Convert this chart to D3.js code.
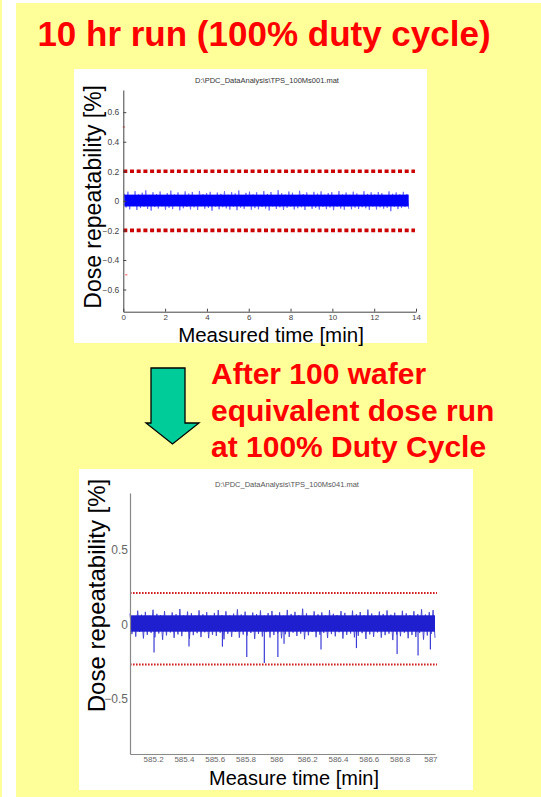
<!DOCTYPE html>
<html>
<head>
<meta charset="utf-8">
<script src="https://cdn.jsdelivr.net/npm/d3@7"></script>
<style>
body { margin: 0; background: #fff; }
svg { display: block; }
text { font-family: "Liberation Sans", Arial, sans-serif; }
</style>
</head>
<body>
<div id="chart"></div>
<script>
// ---- top run (TPS_100Ms001) ----
const topTitle = "D:\\PDC_DataAnalysis\\TPS_100Ms001.mat";
const topXTicks = [0, 2, 4, 6, 8, 10, 12, 14];
const topYTicks = [0.6, 0.4, 0.2, 0, -0.2, -0.4, -0.6];
const topSpan = [0.05, 13.65];          // measured time covered by the trace [min]
const topCore = [-0.038, 0.042];        // dense part of the band [%]
const topLimits = [0.2, -0.2];
const topMarks = [[0.0, 0.5], [0.12, -0.5]];
const topHi = [0.048,0.062,0.039,0.066,0.044,0.055,0.071,0.041,0.058,0.046,
  0.063,0.037,0.052,0.069,0.043,0.057,0.040,0.064,0.049,0.060,
  0.036,0.067,0.045,0.053,0.061,0.038,0.056,0.047,0.065,0.042,
  0.059,0.050,0.070,0.039,0.054,0.062,0.044,0.058,0.041,0.066,
  0.047,0.060,0.038,0.072,0.051,0.043,0.063,0.055,0.040,0.068,
  0.046,0.057,0.037,0.061,0.049,0.064,0.042,0.053,0.059,0.039,
  0.066,0.045,0.056,0.041,0.062,0.050,0.038,0.065,0.047,0.058,
  0.043,0.060,0.052,0.040,0.064,0.048,0.057,0.044,0.061,0.046];
const topLo = [-0.045,-0.058,-0.036,-0.062,-0.049,-0.040,-0.055,-0.066,-0.042,-0.052,
  -0.038,-0.060,-0.047,-0.056,-0.035,-0.064,-0.050,-0.041,-0.058,-0.044,
  -0.061,-0.037,-0.053,-0.048,-0.067,-0.039,-0.057,-0.043,-0.051,-0.059,
  -0.040,-0.063,-0.046,-0.054,-0.036,-0.060,-0.049,-0.057,-0.042,-0.052,
  -0.065,-0.038,-0.055,-0.044,-0.061,-0.047,-0.039,-0.058,-0.050,-0.043,
  -0.062,-0.037,-0.054,-0.048,-0.059,-0.041,-0.056,-0.045,-0.063,-0.040,
  -0.052,-0.060,-0.038,-0.057,-0.046,-0.055,-0.043,-0.050,-0.061,-0.039,
  -0.058,-0.044,-0.053,-0.047,-0.070,-0.041,-0.056,-0.049,-0.042,-0.054];

// ---- bottom run (TPS_100Ms041) ----
const botTitle = "D:\\PDC_DataAnalysis\\TPS_100Ms041.mat";
const botXTicks = [585.2, 585.4, 585.6, 585.8, 586, 586.2, 586.4, 586.6, 586.8, 587];
const botYTicks = [0.5, 0, -0.5];
const botSpan = [585.05, 587.03];
const botCore = [-0.05, 0.06];
const botLimits = [0.21, -0.27];
const botHi = [0.072,0.055,0.091,0.064,0.083,0.058,0.097,0.070,0.061,0.088,
  0.053,0.079,0.067,0.102,0.060,0.085,0.074,0.057,0.093,0.066,
  0.081,0.056,0.076,0.095,0.062,0.087,0.059,0.071,0.099,0.065,
  0.084,0.054,0.078,0.068,0.092,0.058,0.075,0.089,0.063,0.080,
  0.057,0.096,0.069,0.083,0.061,0.104,0.073,0.056,0.086,0.066,
  0.079,0.059,0.094,0.070,0.062,0.088,0.076,0.055,0.091,0.067,
  0.082,0.060,0.098,0.072,0.058,0.085,0.069,0.093,0.064,0.077,
  0.056,0.090,0.073,0.061,0.087,0.068,0.100,0.065,0.081,0.095];
const botLo = [-0.066,-0.083,-0.052,-0.095,-0.071,-0.058,-0.088,-0.062,-0.104,-0.075,
  -0.055,-0.091,-0.068,-0.080,-0.049,-0.097,-0.073,-0.060,-0.086,-0.054,
  -0.093,-0.070,-0.078,-0.057,-0.101,-0.064,-0.084,-0.051,-0.090,-0.069,
  -0.076,-0.059,-0.098,-0.065,-0.082,-0.053,-0.089,-0.072,-0.061,-0.094,
  -0.067,-0.085,-0.056,-0.079,-0.063,-0.100,-0.074,-0.052,-0.087,-0.070,
  -0.058,-0.092,-0.066,-0.081,-0.054,-0.096,-0.071,-0.062,-0.088,-0.077,
  -0.060,-0.099,-0.068,-0.084,-0.055,-0.090,-0.073,-0.063,-0.106,-0.069,
  -0.080,-0.057,-0.094,-0.072,-0.086,-0.059,-0.103,-0.075,-0.065,-0.091];
const botSpikeT = [585.206, 585.433, 585.65, 585.808, 585.922, 586.01, 586.05, 586.29, 586.52, 586.784, 586.92, 587.0];
const botSpikeV = [-0.19, -0.15, -0.15, -0.22, -0.26, -0.22, -0.13, -0.17, -0.16, -0.20, -0.21, -0.17];

const W = 541, H = 797;
const svg = d3.select("#chart").append("svg").attr("width", W).attr("height", H);

// slide background
svg.append("rect").attr("width", W).attr("height", H).attr("fill", "#fff");
svg.append("rect").attr("x", 0).attr("y", 0).attr("width", 2).attr("height", H).attr("fill", "#ffff99");
svg.append("rect").attr("x", 16).attr("y", 3).attr("width", W - 16).attr("height", H - 3).attr("fill", "#ffff99");

svg.append("text").attr("x", 264).attr("y", 46).attr("text-anchor", "middle")
  .attr("font-size", 35).attr("font-weight", "bold").attr("fill", "#ff0000")
  .text("10 hr run (100% duty cycle)");

// trace points alternating between the upper and lower envelope
function trace(span, hi, lo) {
  const idx = d3.scaleLinear().domain([0, hi.length * 2 - 1]).range(span);
  const pts = [];
  hi.forEach((v, i) => { pts.push([idx(2 * i), v]); pts.push([idx(2 * i + 1), lo[i]]); });
  return pts;
}

// ---------- top chart ----------
{
  svg.append("rect").attr("x", 74).attr("y", 69).attr("width", 353).attr("height", 274).attr("fill", "#fff");
  const x = d3.scaleLinear().domain([0, 14]).range([123.3, 416]);
  const y = d3.scaleLinear().domain([-0.75, 0.75]).range([311.7, 90]);
  const g = svg.append("g");

  g.append("text").attr("x", 267).attr("y", 83).attr("text-anchor", "middle")
    .attr("font-size", 7.5).attr("fill", "#333").text(topTitle);

  // limit lines
  topLimits.forEach(v => {
    g.append("line").attr("x1", x(0)).attr("x2", x(13.95)).attr("y1", y(v)).attr("y2", y(v))
      .attr("stroke", "#cc0000").attr("stroke-width", 3.6).attr("stroke-dasharray", "4,2.7");
  });
  g.selectAll(".mark").data(topMarks).join("rect")
    .attr("x", d => x(d[0]) - 0.5).attr("y", d => y(d[1]) - 0.8).attr("width", 2).attr("height", 1.6)
    .attr("fill", "#ff8080");

  // signal
  g.append("path").datum(trace(topSpan, topHi, topLo))
    .attr("d", d3.line().x(d => x(d[0])).y(d => y(d[1])))
    .attr("fill", "none").attr("stroke", "#5a5aff").attr("stroke-width", 0.8);
  g.append("rect").attr("x", x(topSpan[0])).attr("y", y(topCore[1]))
    .attr("width", x(topSpan[1]) - x(topSpan[0])).attr("height", y(topCore[0]) - y(topCore[1]))
    .attr("fill", "#0000ff");

  // axes
  const xa = g.append("g").attr("transform", `translate(0,${y(-0.75)})`)
    .call(d3.axisBottom(x).tickValues(topXTicks).tickSizeInner(-3).tickSizeOuter(0).tickPadding(3));
  const ya = g.append("g").attr("transform", `translate(${x(0)},0)`)
    .call(d3.axisLeft(y).tickValues(topYTicks).tickSizeInner(-3).tickSizeOuter(0).tickPadding(4)
      .tickFormat(d => d === 0 ? "0" : d3.format(".1f")(d)));
  [xa, ya].forEach(a => {
    a.select(".domain").attr("stroke", "#444");
    a.selectAll(".tick line").attr("stroke", "#444");
    a.selectAll("text").attr("font-size", 8.5).attr("fill", "#444").attr("font-family", "Liberation Sans, Arial, sans-serif");
  });
  xa.selectAll("text").attr("font-size", 8);

  g.append("text").attr("transform", `translate(101,${(y(0.75) + y(-0.75)) / 2 - 4}) rotate(-90)`)
    .attr("text-anchor", "middle").attr("font-size", 23).attr("fill", "#000").text("Dose repeatability [%]");
  g.append("text").attr("x", 271).attr("y", 342).attr("text-anchor", "middle")
    .attr("font-size", 20.5).attr("fill", "#000").text("Measured time [min]");
}

// ---------- arrow + caption ----------
{
  const a = [[151, 368], [185, 368], [185, 423], [199, 423], [172.5, 444], [146, 423], [151, 423]];
  svg.append("path").attr("d", d3.line()(a) + "Z")
    .attr("fill", "#00cc99").attr("stroke", "#000").attr("stroke-width", 1.3);
  const cap = ["After 100 wafer", "equivalent dose run", "at 100% Duty Cycle"];
  svg.append("g").selectAll("text").data(cap).join("text")
    .attr("x", 211).attr("y", (d, i) => 384 + i * 36.5)
    .attr("font-size", 30).attr("font-weight", "bold").attr("fill", "#ff0000").text(d => d);
}

// ---------- bottom chart ----------
{
  svg.append("rect").attr("x", 79).attr("y", 469).attr("width", 394).attr("height", 321).attr("fill", "#fff");
  const x = d3.scaleLinear().domain(botSpan).range([130, 435]);
  const y = d3.scaleLinear().domain([-0.87, 0.88]).range([754, 493]);
  const g = svg.append("g");

  g.append("text").attr("x", 287).attr("y", 487).attr("text-anchor", "middle")
    .attr("font-size", 7.5).attr("fill", "#555").text(botTitle);

  botLimits.forEach(v => {
    g.append("line").attr("x1", x(botSpan[0])).attr("x2", x(botSpan[1]) + 2).attr("y1", y(v)).attr("y2", y(v))
      .attr("stroke", "#d02020").attr("stroke-width", 2).attr("stroke-dasharray", "1.6,1.4");
  });

  g.append("path").datum(trace(botSpan, botHi, botLo))
    .attr("d", d3.line().x(d => x(d[0])).y(d => y(d[1])))
    .attr("fill", "none").attr("stroke", "#4040d0").attr("stroke-width", 0.9);
  g.selectAll(".spike").data(botSpikeT).join("line")
    .attr("x1", d => x(d)).attr("x2", d => x(d))
    .attr("y1", y(0)).attr("y2", (d, i) => y(botSpikeV[i]))
    .attr("stroke", "#3a3ad6").attr("stroke-width", 1.2);
  g.append("rect").attr("x", x(botSpan[0])).attr("y", y(botCore[1]))
    .attr("width", x(botSpan[1]) - x(botSpan[0])).attr("height", y(botCore[0]) - y(botCore[1]))
    .attr("fill", "#1f1fd0");

  const xa = g.append("g").attr("transform", `translate(0,${y(-0.87)})`)
    .call(d3.axisBottom(x).tickValues(botXTicks).tickSize(0).tickPadding(2).tickFormat(d3.format("")));
  const ya = g.append("g").attr("transform", `translate(${x(botSpan[0])},0)`)
    .call(d3.axisLeft(y).tickValues(botYTicks).tickSize(0).tickPadding(2).tickFormat(d3.format("")));
  [xa, ya].forEach(a => {
    a.select(".domain").attr("stroke", "#888").attr("stroke-width", 1.2);
    a.selectAll("text").attr("fill", "#666").attr("font-family", "Liberation Sans, Arial, sans-serif");
  });
  xa.selectAll("text").attr("font-size", 8);
  ya.selectAll("text").attr("font-size", 12);

  g.append("text").attr("transform", `translate(105,${(y(0.88) + y(-0.87)) / 2 - 28}) rotate(-90)`)
    .attr("text-anchor", "middle").attr("font-size", 24).attr("fill", "#000").text("Dose repeatability [%]");
  g.append("text").attr("x", 294).attr("y", 785).attr("text-anchor", "middle")
    .attr("font-size", 20).attr("fill", "#000").text("Measure time [min]");
}
</script>
</body>
</html>
